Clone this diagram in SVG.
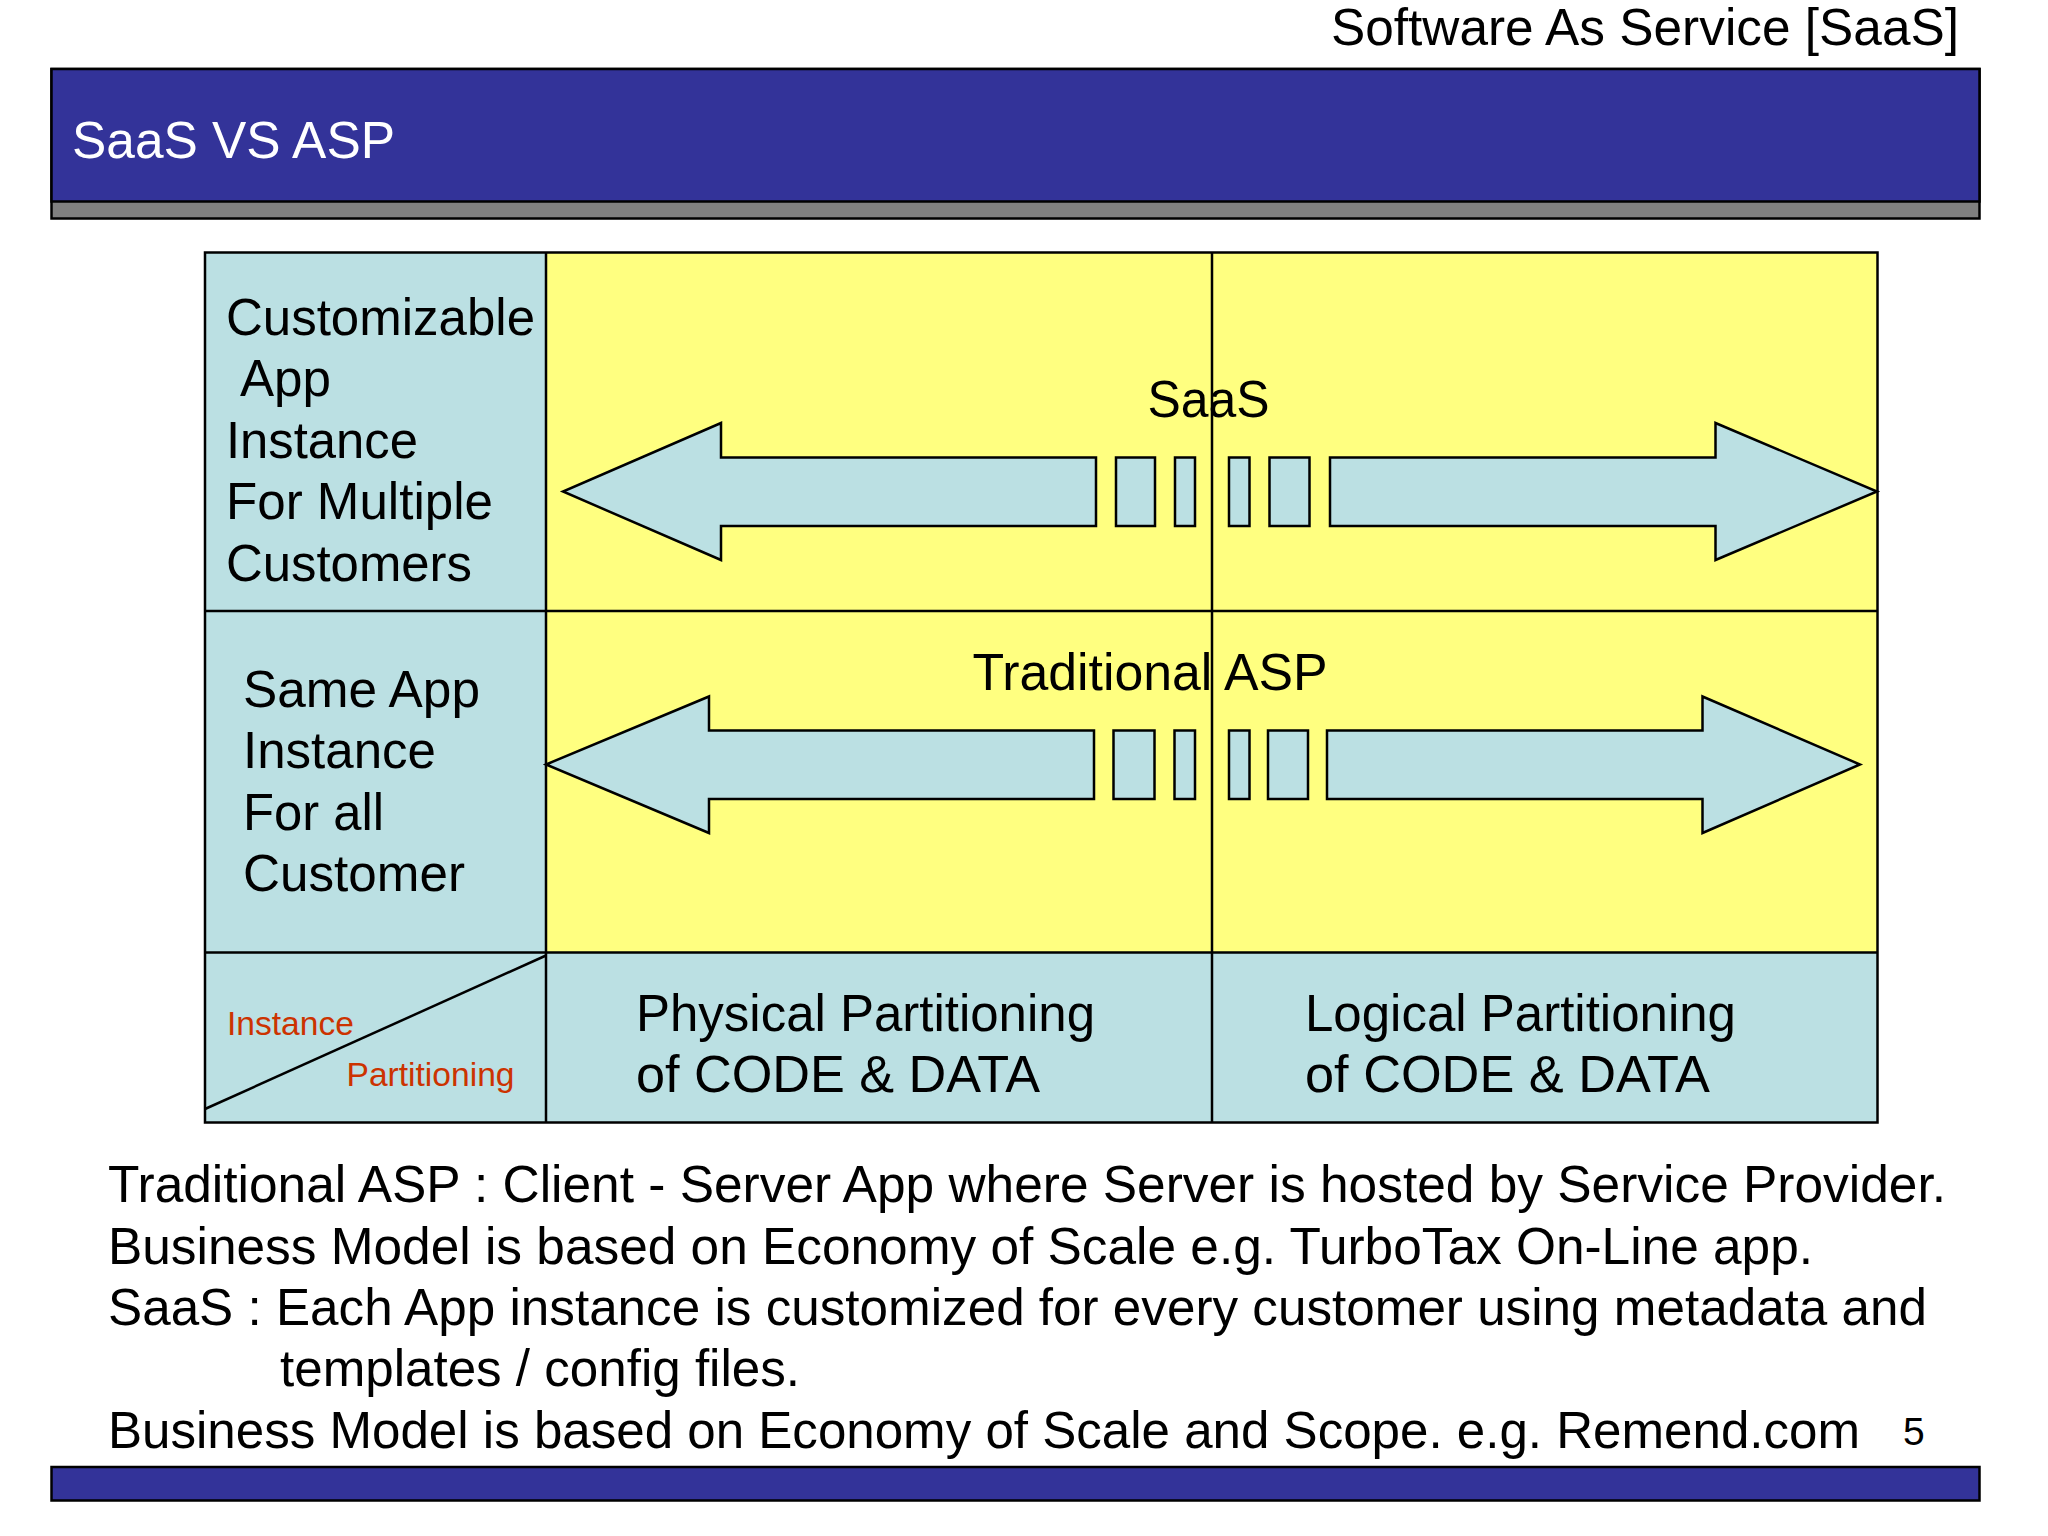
<svg xmlns="http://www.w3.org/2000/svg" width="2048" height="1536" viewBox="0 0 2048 1536">
<style>
text{font-family:"Liberation Sans",Arial,sans-serif;fill:#000;font-size:51.5px;lengthAdjust:spacingAndGlyphs}
.w{fill:#fff}
.s{stroke:#000;stroke-width:2.5}
.t{fill:#BBE0E3}.y{fill:#FFFF80}.b{fill:#333399}
.l{stroke:#000;stroke-width:2.5;fill:none}
.r{fill:#CC3300;font-size:33.6px}
</style>
<rect width="2048" height="1536" fill="#fff"/>
<g id="header">
<rect class="s" x="51.5" y="69" width="1928" height="149.500" fill="#808080"/>
<rect class="s b" x="51.5" y="69" width="1928" height="132.500"/>
<text class="w" x="72" y="157.500" textLength="323" lengthAdjust="spacingAndGlyphs">SaaS VS ASP</text>
<text x="1331" y="44.500" textLength="628" lengthAdjust="spacingAndGlyphs">Software As Service [SaaS]</text>
</g>
<g id="table">
<rect class="t" x="205" y="253" width="341" height="869"/>
<rect class="y" x="546" y="253" width="1331" height="699"/>
<rect class="t" x="546" y="952" width="1331" height="170"/>
</g>
<g id="row-saas-label">
<text x="226" y="335" textLength="309" lengthAdjust="spacingAndGlyphs">Customizable</text>
<text x="240" y="396" textLength="91" lengthAdjust="spacingAndGlyphs">App</text>
<text x="226" y="458" textLength="192" lengthAdjust="spacingAndGlyphs">Instance</text>
<text x="226" y="519" textLength="267" lengthAdjust="spacingAndGlyphs">For Multiple</text>
<text x="226" y="580.500" textLength="246" lengthAdjust="spacingAndGlyphs">Customers</text>
</g>
<g id="row-asp-label">
<text x="243" y="707" textLength="237" lengthAdjust="spacingAndGlyphs">Same App</text>
<text x="243" y="768" textLength="193" lengthAdjust="spacingAndGlyphs">Instance</text>
<text x="243" y="829.500" textLength="141" lengthAdjust="spacingAndGlyphs">For all</text>
<text x="243" y="891" textLength="222" lengthAdjust="spacingAndGlyphs">Customer</text>
</g>
<g id="arrow-saas">
<path class="s t" d="M1096 457.500H721V423L563 491.500L721 560V526H1096Z"/>
<rect class="s t" x="1116" y="457.500" width="39" height="68.500"/>
<rect class="s t" x="1175" y="457.500" width="20" height="68.500"/>
<rect class="s t" x="1229" y="457.500" width="20.500" height="68.500"/>
<rect class="s t" x="1269.500" y="457.500" width="40" height="68.500"/>
<path class="s t" d="M1330 457.500H1715.500V423L1877 491.500L1715.500 560V526H1330Z"/>
</g>
<g id="arrow-asp">
<path class="s t" d="M1094 730.500H709V696.500L546 764.500L709 833V799H1094Z"/>
<rect class="s t" x="1113.500" y="730.500" width="41" height="68.500"/>
<rect class="s t" x="1174.500" y="730.500" width="20.500" height="68.500"/>
<rect class="s t" x="1229" y="730.500" width="20.500" height="68.500"/>
<rect class="s t" x="1268" y="730.500" width="40" height="68.500"/>
<path class="s t" d="M1327 730.500H1702.500V696.500L1860 764.500L1702.500 833V799H1327Z"/>
</g>
<g id="connectors">
<rect class="l" x="205" y="252.500" width="1672.500" height="870"/>
<path class="l" d="M205 611H1877.500M205 952.500H1877.500M546 252.500V1122.500M1212 252.500V1122.500"/>
<path class="l" d="M205 1109L546 955.500"/>
</g>
<g id="labels">
<text x="1147.500" y="417" textLength="122" lengthAdjust="spacingAndGlyphs">SaaS</text>
<text x="972.500" y="689.500" textLength="355" lengthAdjust="spacingAndGlyphs">Traditional ASP</text>
<text class="r" x="227" y="1035">Instance</text>
<text class="r" x="346.500" y="1086">Partitioning</text>
<text x="636" y="1031" textLength="459" lengthAdjust="spacingAndGlyphs">Physical Partitioning</text>
<text x="636" y="1092" textLength="404" lengthAdjust="spacingAndGlyphs">of CODE &amp; DATA</text>
<text x="1305" y="1031" textLength="431" lengthAdjust="spacingAndGlyphs">Logical Partitioning</text>
<text x="1305" y="1092" textLength="405" lengthAdjust="spacingAndGlyphs">of CODE &amp; DATA</text>
</g>
<g id="notes">
<text x="108" y="1202" textLength="1838" lengthAdjust="spacingAndGlyphs">Traditional ASP : Client - Server App where Server is hosted by Service Provider.</text>
<text x="108" y="1263.500" textLength="1705" lengthAdjust="spacingAndGlyphs">Business Model is based on Economy of Scale e.g. TurboTax On-Line app.</text>
<text x="108" y="1325" textLength="1819" lengthAdjust="spacingAndGlyphs">SaaS : Each App instance is customized for every customer using metadata and</text>
<text x="280" y="1386" textLength="520" lengthAdjust="spacingAndGlyphs">templates / config files.</text>
<text x="108" y="1447.500" textLength="1752" lengthAdjust="spacingAndGlyphs">Business Model is based on Economy of Scale and Scope. e.g. Remend.com</text>
<text x="1903" y="1445" style="font-size:39px">5</text>
</g>
<g id="footer">
<rect class="s b" x="51.500" y="1467" width="1928" height="33.500"/>
</g>
</svg>
